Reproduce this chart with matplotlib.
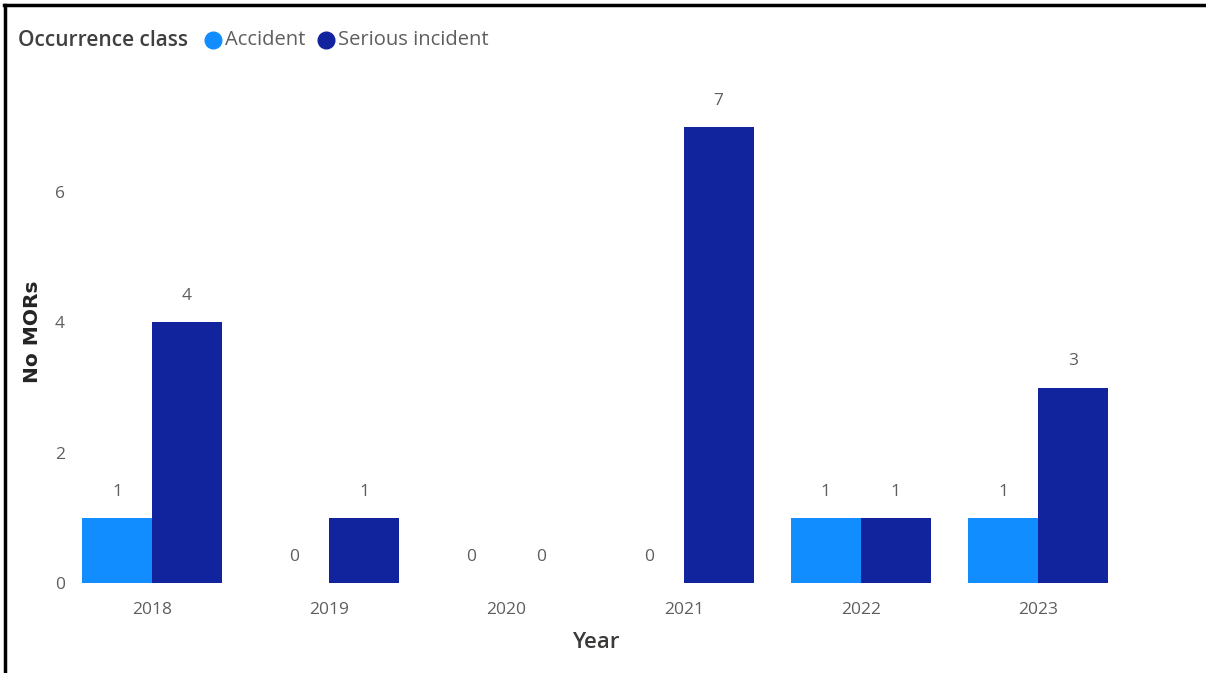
import numpy as np
import matplotlib.pyplot as plt
from matplotlib.lines import Line2D

plt.rcParams['font.family'] = ['Open Sans', 'DejaVu Sans']

years = ['2018', '2019', '2020', '2021', '2022', '2023']
accident = [1, 0, 0, 0, 1, 1]
serious = [4, 1, 0, 7, 1, 3]
legend_names = ['Accident', 'Serious incident']

c_acc = '#118DFF'
c_ser = '#12239E'
grey = '#605E5C'

W, H = 1206, 673
fig = plt.figure(figsize=(W / 100, H / 100), dpi=100)
ax = fig.add_axes([0.0526, 0.1337, 0.8816, 0.7355])

x = np.arange(len(years))
w = 0.395
b1 = ax.bar(x - w / 2, accident, w, color=c_acc)
b2 = ax.bar(x + w / 2, serious, w, color=c_ser)

for bars, vals in [(b1, accident), (b2, serious)]:
    for r, v in zip(bars, vals):
        ax.annotate(str(v), (r.get_x() + r.get_width() / 2, v),
                    xytext=(0, 19), textcoords='offset points',
                    ha='center', va='center', fontsize=12.5, color=grey)

ax.set_xlim(-0.5, 5.5)
ax.set_ylim(0, 7.6)
ax.set_yticks([0, 2, 4, 6])
ax.set_xticks(x)
ax.set_xticklabels(years)
ax.tick_params(length=0, labelsize=12.5, colors=grey)
ax.tick_params(axis='x', pad=14)
ax.tick_params(axis='y', pad=-1)
for s in ax.spines.values():
    s.set_visible(False)

# axis titles
fig.text(596 / W, 1 - 642 / H, 'Year', fontsize=16, fontweight='semibold',
         color='#3b3a39', ha='center', va='center')
fig.text(32 / W, 1 - 332 / H, 'No MORs', fontsize=14.5, fontweight='bold',
         color='#252423', ha='center', va='center', rotation=90,
         family='DejaVu Sans')

# legend row
ly = 1 - 40 / H
fig.text(18 / W, ly, 'Occurrence class', fontsize=15, fontweight='semibold',
         color='#404040', va='center')
for name, col, cx in zip(legend_names, [c_acc, c_ser], [213, 326]):
    fig.add_artist(Line2D([cx / W], [ly], marker='o', ls='', color=col,
                          markersize=12, transform=fig.transFigure))
    fig.text((cx + 12) / W, ly, name, fontsize=14.5, color=grey, va='center')

# frame lines at left and top of the screenshot
fig.add_artist(Line2D([0.004, 0.004], [0, 0.993], color='black', lw=2.5,
                      transform=fig.transFigure))
fig.add_artist(Line2D([0.003, 1.0], [0.993, 0.993], color='black', lw=2.5,
                      transform=fig.transFigure))

fig.savefig('out.png', dpi=100)
